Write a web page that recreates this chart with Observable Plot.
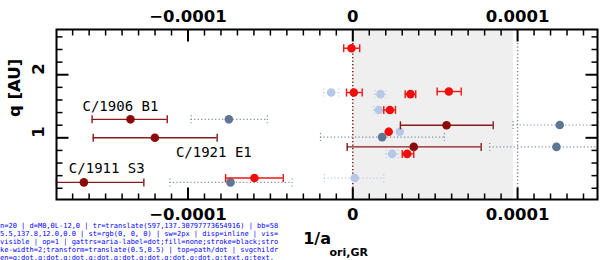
<!DOCTYPE html>
<html><head><meta charset="utf-8">
<script src="https://cdn.jsdelivr.net/npm/d3@7"></script>
<script src="https://cdn.jsdelivr.net/npm/@observablehq/plot@0.6"></script>
<style>body{margin:0;background:#fff}#dbg{position:absolute;left:0;top:222px;width:280px;font:7px monospace;color:#00f;word-break:break-all;line-height:8px}</style>
</head><body><div id="chart"></div><div id="dbg"></div>
<script>
// ---- data (x = 1/a_ori,GR, q in AU) ----
const darkNames = ["C/1906 B1", "C/1921 E1", "C/1911 S3", "", ""];
const darkX  = [-1.349e-4, -1.201e-4, -1.632e-4, 0.569e-4, 0.370e-4];
const darkLo = [-1.582e-4, -1.575e-4, -2.000e-4, 0.289e-4, -0.034e-4];
const darkHi = [-1.126e-4, -0.823e-4, -1.268e-4, 0.852e-4, 0.779e-4];
const darkQ  = [1.293, 1.000, 0.293, 1.198, 0.856];

const redX  = [-0.008e-4, 0.006e-4, 0.350e-4, 0.583e-4, 0.225e-4, 0.218e-4, 0.330e-4, -0.597e-4];
const redLo = [-0.055e-4, -0.038e-4, 0.318e-4, 0.512e-4, 0.188e-4, 0.218e-4, 0.300e-4, -0.772e-4];
const redHi = [0.042e-4, 0.057e-4, 0.382e-4, 0.658e-4, 0.259e-4, 0.218e-4, 0.370e-4, -0.422e-4];
const redQ  = [2.420, 1.718, 1.692, 1.734, 1.442, 1.096, 0.745, 0.362];

const slateX  = [-0.752e-4, -0.742e-4, 0.178e-4, 1.256e-4, 1.236e-4];
const slateLo = [-0.981e-4, -1.110e-4, -0.196e-4, 0.973e-4, 0.831e-4];
const slateHi = [-0.519e-4, -0.368e-4, 0.556e-4, 1.750e-4, 1.650e-4];
const slateQ  = [1.293, 0.293, 1.011, 1.203, 0.856];

const lightX  = [-0.131e-4, 0.168e-4, 0.158e-4, 0.285e-4, 0.239e-4, 0.012e-4];
const lightLo = [-0.176e-4, 0.135e-4, 0.128e-4, 0.285e-4, 0.203e-4, -0.172e-4];
const lightHi = [-0.085e-4, 0.201e-4, 0.188e-4, 0.285e-4, 0.276e-4, 0.188e-4];
const lightQ  = [1.718, 1.692, 1.442, 1.096, 0.745, 0.362];

const shadeBand = [{a: 0, b: 0.975e-4}];
const refLines = [0, 1e-4];

const xDomain = [-1.798e-4, 1.485e-4];
const yDomain = [0.022, 2.717];
const xMajor = [-1e-4, 0, 1e-4];
const xTickLabels = ["\u22120.0001", "0", "0.0001"];
const yMajor = [1, 2];
const yTickLabels = ["1", "2"];
const xMinor = d3.range(-17, 15).map(k => k * 1e-5).filter(v => !xMajor.some(m => Math.abs(m - v) < 1e-9));
const yMinor = d3.range(1, 14).map(k => k * 0.2).filter(v => !yMajor.some(m => Math.abs(m - v) < 1e-9));

const clampX = v => Math.max(xDomain[0], Math.min(xDomain[1], v));
const rows = (x, lo, hi, q, names) => x.map((v, i) => ({x: v, lo: clampX(lo[i]), hi: clampX(hi[i]), q: q[i], name: names ? names[i] : ""}));
const dark = rows(darkX, darkLo, darkHi, darkQ, darkNames);
const red = rows(redX, redLo, redHi, redQ);
const slate = rows(slateX, slateLo, slateHi, slateQ);
const light = rows(lightX, lightLo, lightHi, lightQ);

const W = 600, H = 260, mt = 29, mb = 61, ml = 56, mr = 3;
const capSym = {draw(ctx, size) { const r = Math.sqrt(size / Math.PI); ctx.moveTo(0, -r); ctx.lineTo(0, r); }};
const seg = (dx, dy) => ({draw(ctx) { ctx.moveTo(0, 0); ctx.lineTo(dx, dy); }});

function errGroup(data, color, dash, dotFill, width) {
  const o = {stroke: color, strokeWidth: width};
  if (dash) o.strokeDasharray = dash;
  return [
    Plot.ruleY(data, {y: "q", x1: "lo", x2: "hi", ...o}),
    Plot.dot(data, {x: "lo", y: "q", symbol: capSym, r: 4, ...o}),
    Plot.dot(data, {x: "hi", y: "q", symbol: capSym, r: 4, ...o}),
    Plot.dot(data, {x: "x", y: "q", r: 4.3, fill: dotFill, stroke: "none"})
  ];
}
const xTicksAt = (vals, yEdge, len, w) => Plot.dot(vals, {x: d => d, y: () => yEdge, symbol: seg(0, len), r: 1, fill: "none", stroke: "black", strokeWidth: w});
const yTicksAt = (vals, xEdge, len, w) => Plot.dot(vals, {y: d => d, x: () => xEdge, symbol: seg(len, 0), r: 1, fill: "none", stroke: "black", strokeWidth: w});

const bold = {fontWeight: "bold", fontFamily: "DejaVu Sans", fill: "black"};
const mono = {fontFamily: "DejaVu Sans Mono", fontSize: 14, fill: "black", textAnchor: "start"};

const chart = Plot.plot({
  width: W, height: H,
  marginTop: mt, marginBottom: mb, marginLeft: ml, marginRight: mr,
  x: {domain: xDomain, axis: null},
  y: {domain: yDomain, axis: null},
  style: {background: "white"},
  marks: [
    Plot.rect(shadeBand, {x1: "a", x2: "b", fill: "#efefef"}),
    Plot.ruleX([refLines[0]], {stroke: "#7a1a1a", strokeWidth: 1.5, strokeDasharray: "1.2,2.3"}),
    Plot.ruleX([refLines[1]], {stroke: "#8a8a8a", strokeWidth: 1.5, strokeDasharray: "1.2,2.3"}),
    ...errGroup(light, "#b9c9e3", "1.2,2.3", "#b6c8e6", 1.2),
    ...errGroup(slate, "#7d8ea6", "1.2,2.3", "#5e7594", 1.2),
    ...errGroup(dark, "#8b1a1a", null, "#8b0a0a", 1.4),
    ...errGroup(red, "#ee1515", null, "#f20d0d", 1.4),
    Plot.text(dark.filter(d => d.name === "C/1906 B1"), {x: "x", y: "q", text: "name", dx: -48, dy: -13.3, ...mono}),
    Plot.text(dark.filter(d => d.name === "C/1921 E1"), {x: "x", y: "q", text: "name", dx: 21, dy: 14.6, ...mono}),
    Plot.text(dark.filter(d => d.name === "C/1911 S3"), {x: "x", y: "q", text: "name", dx: -15, dy: -13.8, ...mono}),
    Plot.frame({stroke: "black", strokeWidth: 2}),
    xTicksAt(xMinor, yDomain[1], 6, 1.5),
    xTicksAt(xMinor, yDomain[0], -6, 1.5),
    xTicksAt(xMajor, yDomain[1], 12, 2),
    xTicksAt(xMajor, yDomain[0], -12, 2),
    yTicksAt(yMinor, xDomain[0], 6, 1.5),
    yTicksAt(yMinor, xDomain[1], -6, 1.5),
    yTicksAt(yMajor, xDomain[0], 12, 2),
    yTicksAt(yMajor, xDomain[1], -12, 2),
    Plot.text(xMajor, {x: d => d, text: (d, i) => xTickLabels[i], frameAnchor: "top", dy: -19, fontSize: 16.5, ...bold}),
    Plot.text(xMajor, {x: d => d, text: (d, i) => xTickLabels[i], frameAnchor: "bottom", dy: 20, fontSize: 16.5, ...bold}),
    Plot.text(yMajor, {y: d => d, text: (d, i) => yTickLabels[i], frameAnchor: "left", dx: -18, rotate: -90, fontSize: 16.5, ...bold}),
    Plot.text(["q [AU]"], {text: d => d, frameAnchor: "left", dx: -42, dy: 2.5, rotate: -90, fontSize: 16.5, ...bold}),
    Plot.text(["1/a"], {text: d => d, frameAnchor: "bottom", dx: 4, dy: 44.5, textAnchor: "end", fontSize: 16, ...bold}),
    Plot.text(["ori,GR"], {text: d => d, frameAnchor: "bottom", dx: 2.5, dy: 56, textAnchor: "start", fontSize: 11, ...bold})
  ]
});
document.getElementById("chart").appendChild(chart);
// debug
const info = [];
const groups = chart.querySelectorAll("g[aria-label=dot]");
const tg = groups[groups.length - 1];
const p = tg ? tg.querySelector("path") : null;
if (p) {
  const cs = getComputedStyle(p), r = p.getBoundingClientRect();
  info.push("n=" + groups.length, "d=" + p.getAttribute("d"), "tr=" + p.getAttribute("transform"), "bb=" + [r.x, r.y, r.width, r.height].map(v => v.toFixed(1)).join(","),
    "st=" + cs.stroke, "sw=" + cs.strokeWidth, "disp=" + cs.display, "vis=" + cs.visibility, "op=" + cs.opacity, "gattrs=" + Array.from(tg.attributes).map(a => a.name + "=" + a.value).join(";"));
  const e = document.elementFromPoint(r.x + r.width / 2 + 0.5, r.y + r.height / 2);
  info.push("top=" + (e ? e.tagName + "/" + (e.parentNode.getAttribute && e.parentNode.getAttribute("aria-label")) : "none"));
}
info.push("svgchildren=" + Array.from(chart.children).map(c => c.tagName + (c.getAttribute("aria-label") ? ":" + c.getAttribute("aria-label") : "")).slice(-14).join(","));
document.getElementById("dbg").textContent = info.join(" | ");
</script>
</body></html>
